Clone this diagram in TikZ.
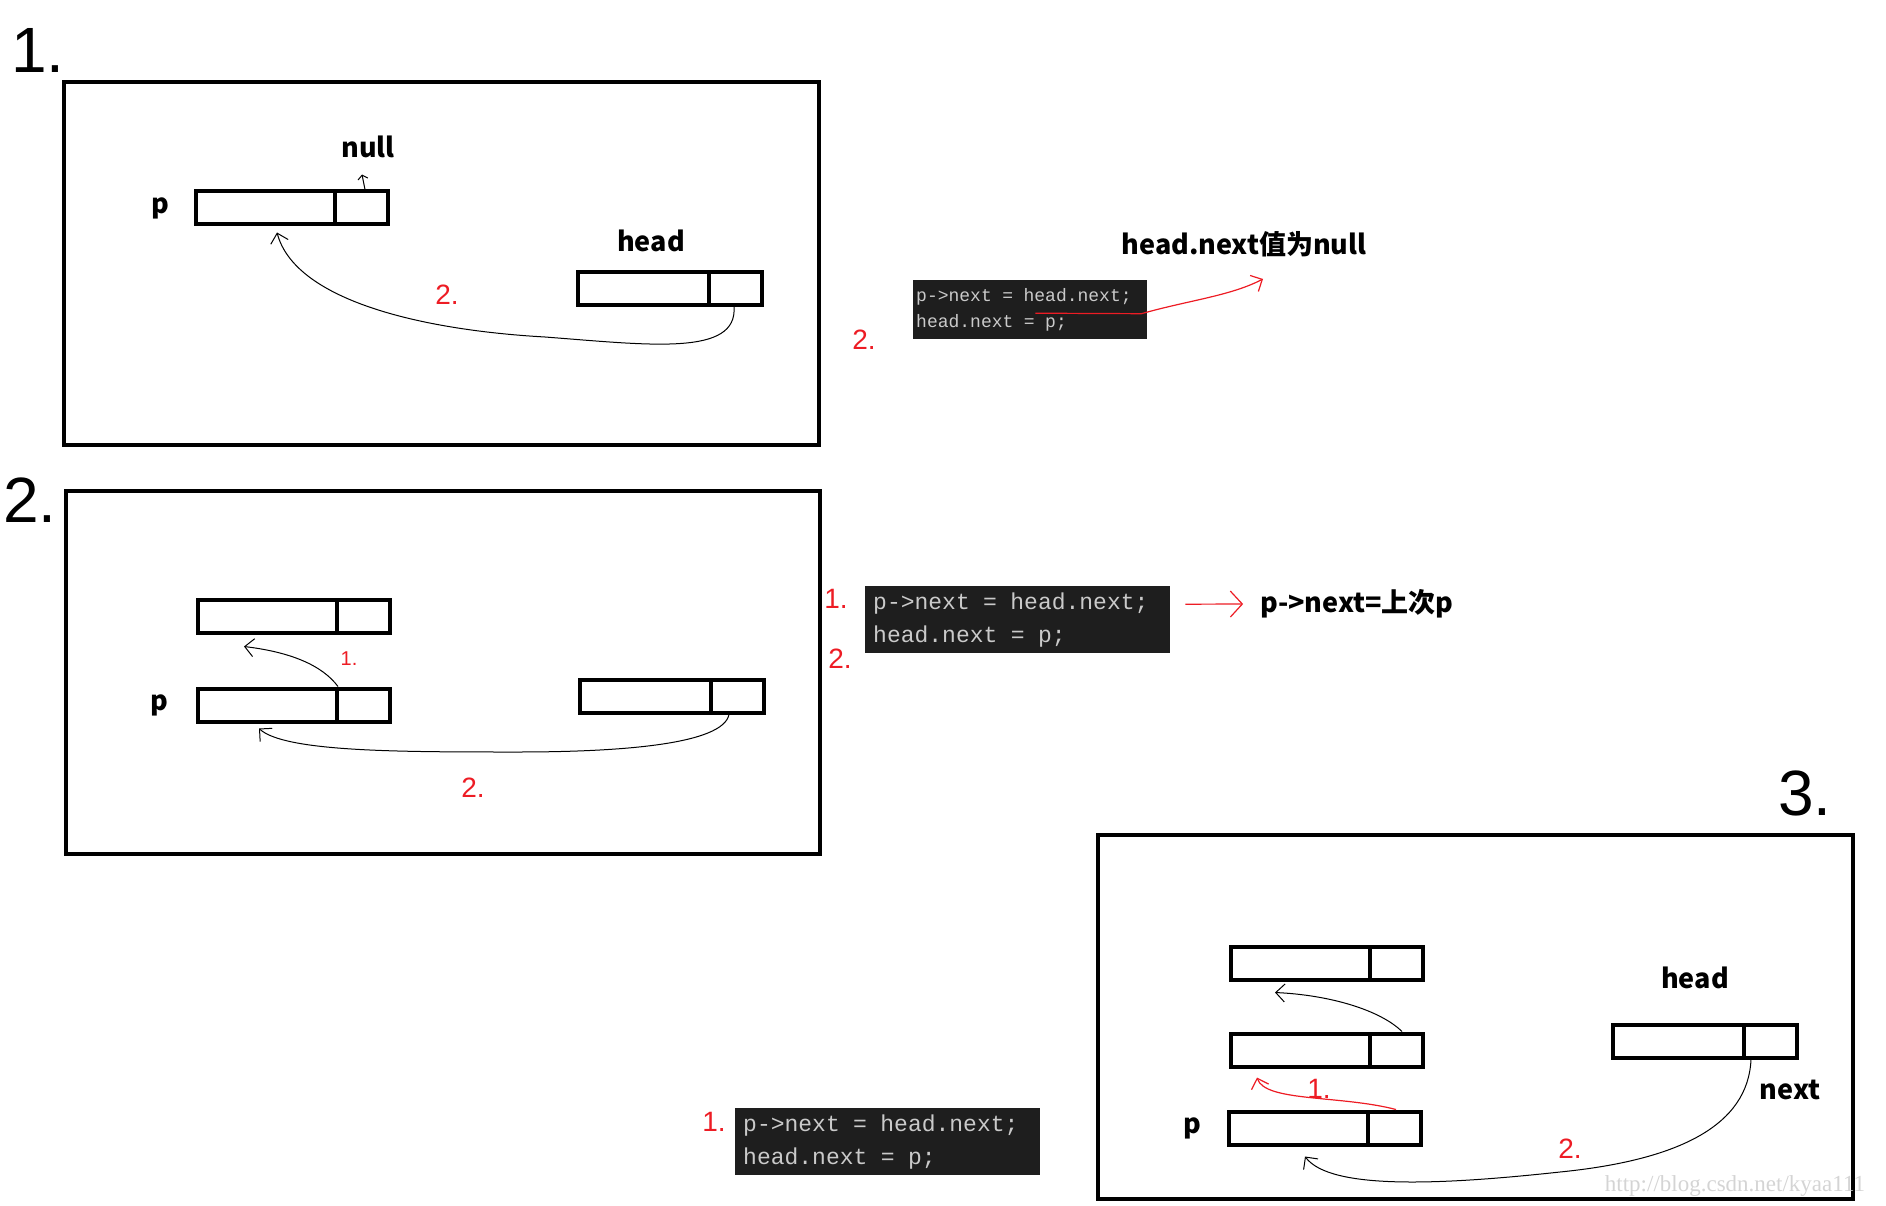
\documentclass[tikz,border=0pt]{standalone}
\usepackage{fontspec}
\setmainfont{Liberation Sans}
\newfontfamily\cjk{Noto Sans CJK SC}
\newfontfamily\codefont{Liberation Mono}
\newfontfamily\webfont{Liberation Serif}
\usetikzlibrary{arrows.meta,positioning}
\newcommand\eqsp{\kern0.25em\relax}
\newcommand\codelines{p->next\eqsp~=~\eqsp head.next;\\head.next\eqsp~=~\eqsp p;}
\definecolor{Ink}{HTML}{000000}
\definecolor{Pen}{HTML}{ED1C24}
\definecolor{CodeBg}{HTML}{1E1E1E}
\definecolor{CodeFg}{HTML}{CACACA}
\definecolor{Faint}{HTML}{D4D4D4}
\tikzset{
  frame/.style={draw=Ink,line width=4.5pt},
  cell/.style={draw=Ink,line width=4pt,minimum width=192pt,minimum height=33pt,inner sep=0pt,
    path picture={\draw[Ink,line width=4pt] ([xshift=-53pt]path picture bounding box.north east) -- ([xshift=-53pt]path picture bounding box.south east);}},
  tag/.style={font=\cjk\bfseries\fontsize{27}{32}\selectfont,text=Ink,inner sep=0pt},
  numtag/.style={font=\fontsize{64}{64}\selectfont,text=Ink,inner sep=0pt},
  redtag/.style={font=\fontsize{28}{28}\selectfont,text=Pen,inner sep=0pt},
  codebox/.style={fill=CodeBg,text=CodeFg,align=left,anchor=north west,inner xsep=8pt,inner ysep=0pt,
    text width=289pt,minimum height=67pt,font=\codefont\fontsize{23}{33}\selectfont},
  link/.style={-{Straight Barb[length=9pt,width=18pt]},draw=Ink,line width=1pt},
  redlink/.style={link,draw=Pen,line width=1.2pt}
}

\begin{document}
\begin{tikzpicture}[x=1pt,y=-1pt]
  \useasboundingbox (0,0) rectangle (1886,1206);

  % panel 1
  \node[numtag] (n1) at (38,50) {1.};
  \draw[frame] (64,82) rectangle (819,445);
  \node[cell] (p1) at (292,208) {};
  \node[tag,left=25pt of p1] (p1lbl) {p};
  \node[tag] (null1) at (368,147) {null};
  \node[cell,minimum width=184pt] (hd1) at (670,288) {};
  \node[tag] (hd1lbl) at (651,241) {head};
  \draw[link,-{Straight Barb[length=4pt,width=10pt]}] ([xshift=-25pt]p1.north east) -- ([xshift=-28pt,yshift=15pt]p1.north east);
  \draw[link] ([xshift=-30pt]hd1.south east) .. controls +(4,50) and (650,345) .. (545,337)
    .. controls (420,330) and (295,300) .. ([xshift=-15pt,yshift=-6pt]p1.south);
  \node[redtag] (r1) at (447,295) {2.};

  \node[codebox,text width=228pt,inner xsep=3pt,minimum height=59pt,
    font=\codefont\fontsize{18}{26}\selectfont] (code1) at (913,280) {\codelines};
  \node[redtag] (r1b) at (864,340) {2.};
  \node[tag] (note1) at (1244,244) {head.next值为null};
  \draw[redlink] ([xshift=-112pt,yshift=-3.5pt]code1.east) -- ([xshift=-6pt,yshift=-4pt]code1.east)
    .. controls (1190,300) and (1230,296) .. ([xshift=19pt,yshift=-22pt]note1.south);

  % panel 2
  \node[numtag] (n2) at (30,500) {2.};
  \draw[frame] (66,491) rectangle (820,854);
  \node[cell] (a2) at (294,616) {};
  \node[cell] (p2) at (294,705) {};
  \node[tag,left=28pt of p2] (p2lbl) {p};
  \node[cell,minimum width=184pt] (hd2) at (672,696) {};
  \draw[link] ([xshift=-54pt]p2.north east) .. controls (322,665) and (290,652) .. ([xshift=-50pt,yshift=-12pt]a2.south);
  \node[redtag,font=\fontsize{20}{20}\selectfont] (r2a) at (349,659) {1.};
  \draw[link] ([xshift=-37pt]hd2.south east) .. controls +(-6,30) and (620,752) .. (517,752)
    .. controls (400,752) and (285,752) .. ([xshift=-35pt,yshift=-5pt]p2.south);
  \node[redtag] (r2b) at (473,788) {2.};

  \node[codebox] (code2) at (865,586) {\codelines};
  \node[redtag] (r2c) at (836,599) {1.};
  \node[redtag] (r2d) at (840,659) {2.};
  \node[tag] (note2) at (1357,604) {p->next=上次p};
  \draw[redlink,-{Straight Barb[length=12pt,width=26pt]}] ([xshift=15pt,yshift=15.5pt]code2.east) -- ([xshift=-17pt]note2.west);

  % panel 3
  \node[numtag] (n3) at (1805,793) {3.};
  \draw[frame] (1098,835) rectangle (1853,1199);
  \node[cell] (t3) at (1327,963) {};
  \node[cell] (m3) at (1327,1050) {};
  \node[cell] (p3) at (1325,1128) {};
  \node[tag,left=26pt of p3] (p3lbl) {p};
  \node[cell,minimum width=184pt] (hd3) at (1705,1041) {};
  \node[tag] (hd3lbl) at (1695,978) {head};
  \node[tag] (nx3) at (1790,1090) {next};
  \draw[link] ([xshift=-23pt]m3.north east) .. controls (1380,1010) and (1330,995) .. ([xshift=-52pt,yshift=-11pt]t3.south);
  \draw[redlink] ([xshift=-27pt]p3.north east) .. controls (1340,1095) and (1265,1102) .. ([xshift=-70pt,yshift=-9pt]m3.south);
  \node[redtag] (r3a) at (1319,1089) {1.};
  \draw[link] ([xshift=-48pt]hd3.south east) .. controls (1748,1125) and (1680,1160) .. (1560,1172)
    .. controls (1440,1185) and (1330,1190) .. ([xshift=-20pt,yshift=-10pt]p3.south);
  \node[redtag] (r3b) at (1570,1149) {2.};

  \node[codebox] (code3) at (735,1108) {\codelines};
  \node[redtag] (r3c) at (714,1122) {1.};
  \node[text=Faint,font=\webfont\fontsize{23}{23}\selectfont] (web) at (1735,1186) {http://blog.csdn.net/kyaa111};
\end{tikzpicture}
\end{document}
